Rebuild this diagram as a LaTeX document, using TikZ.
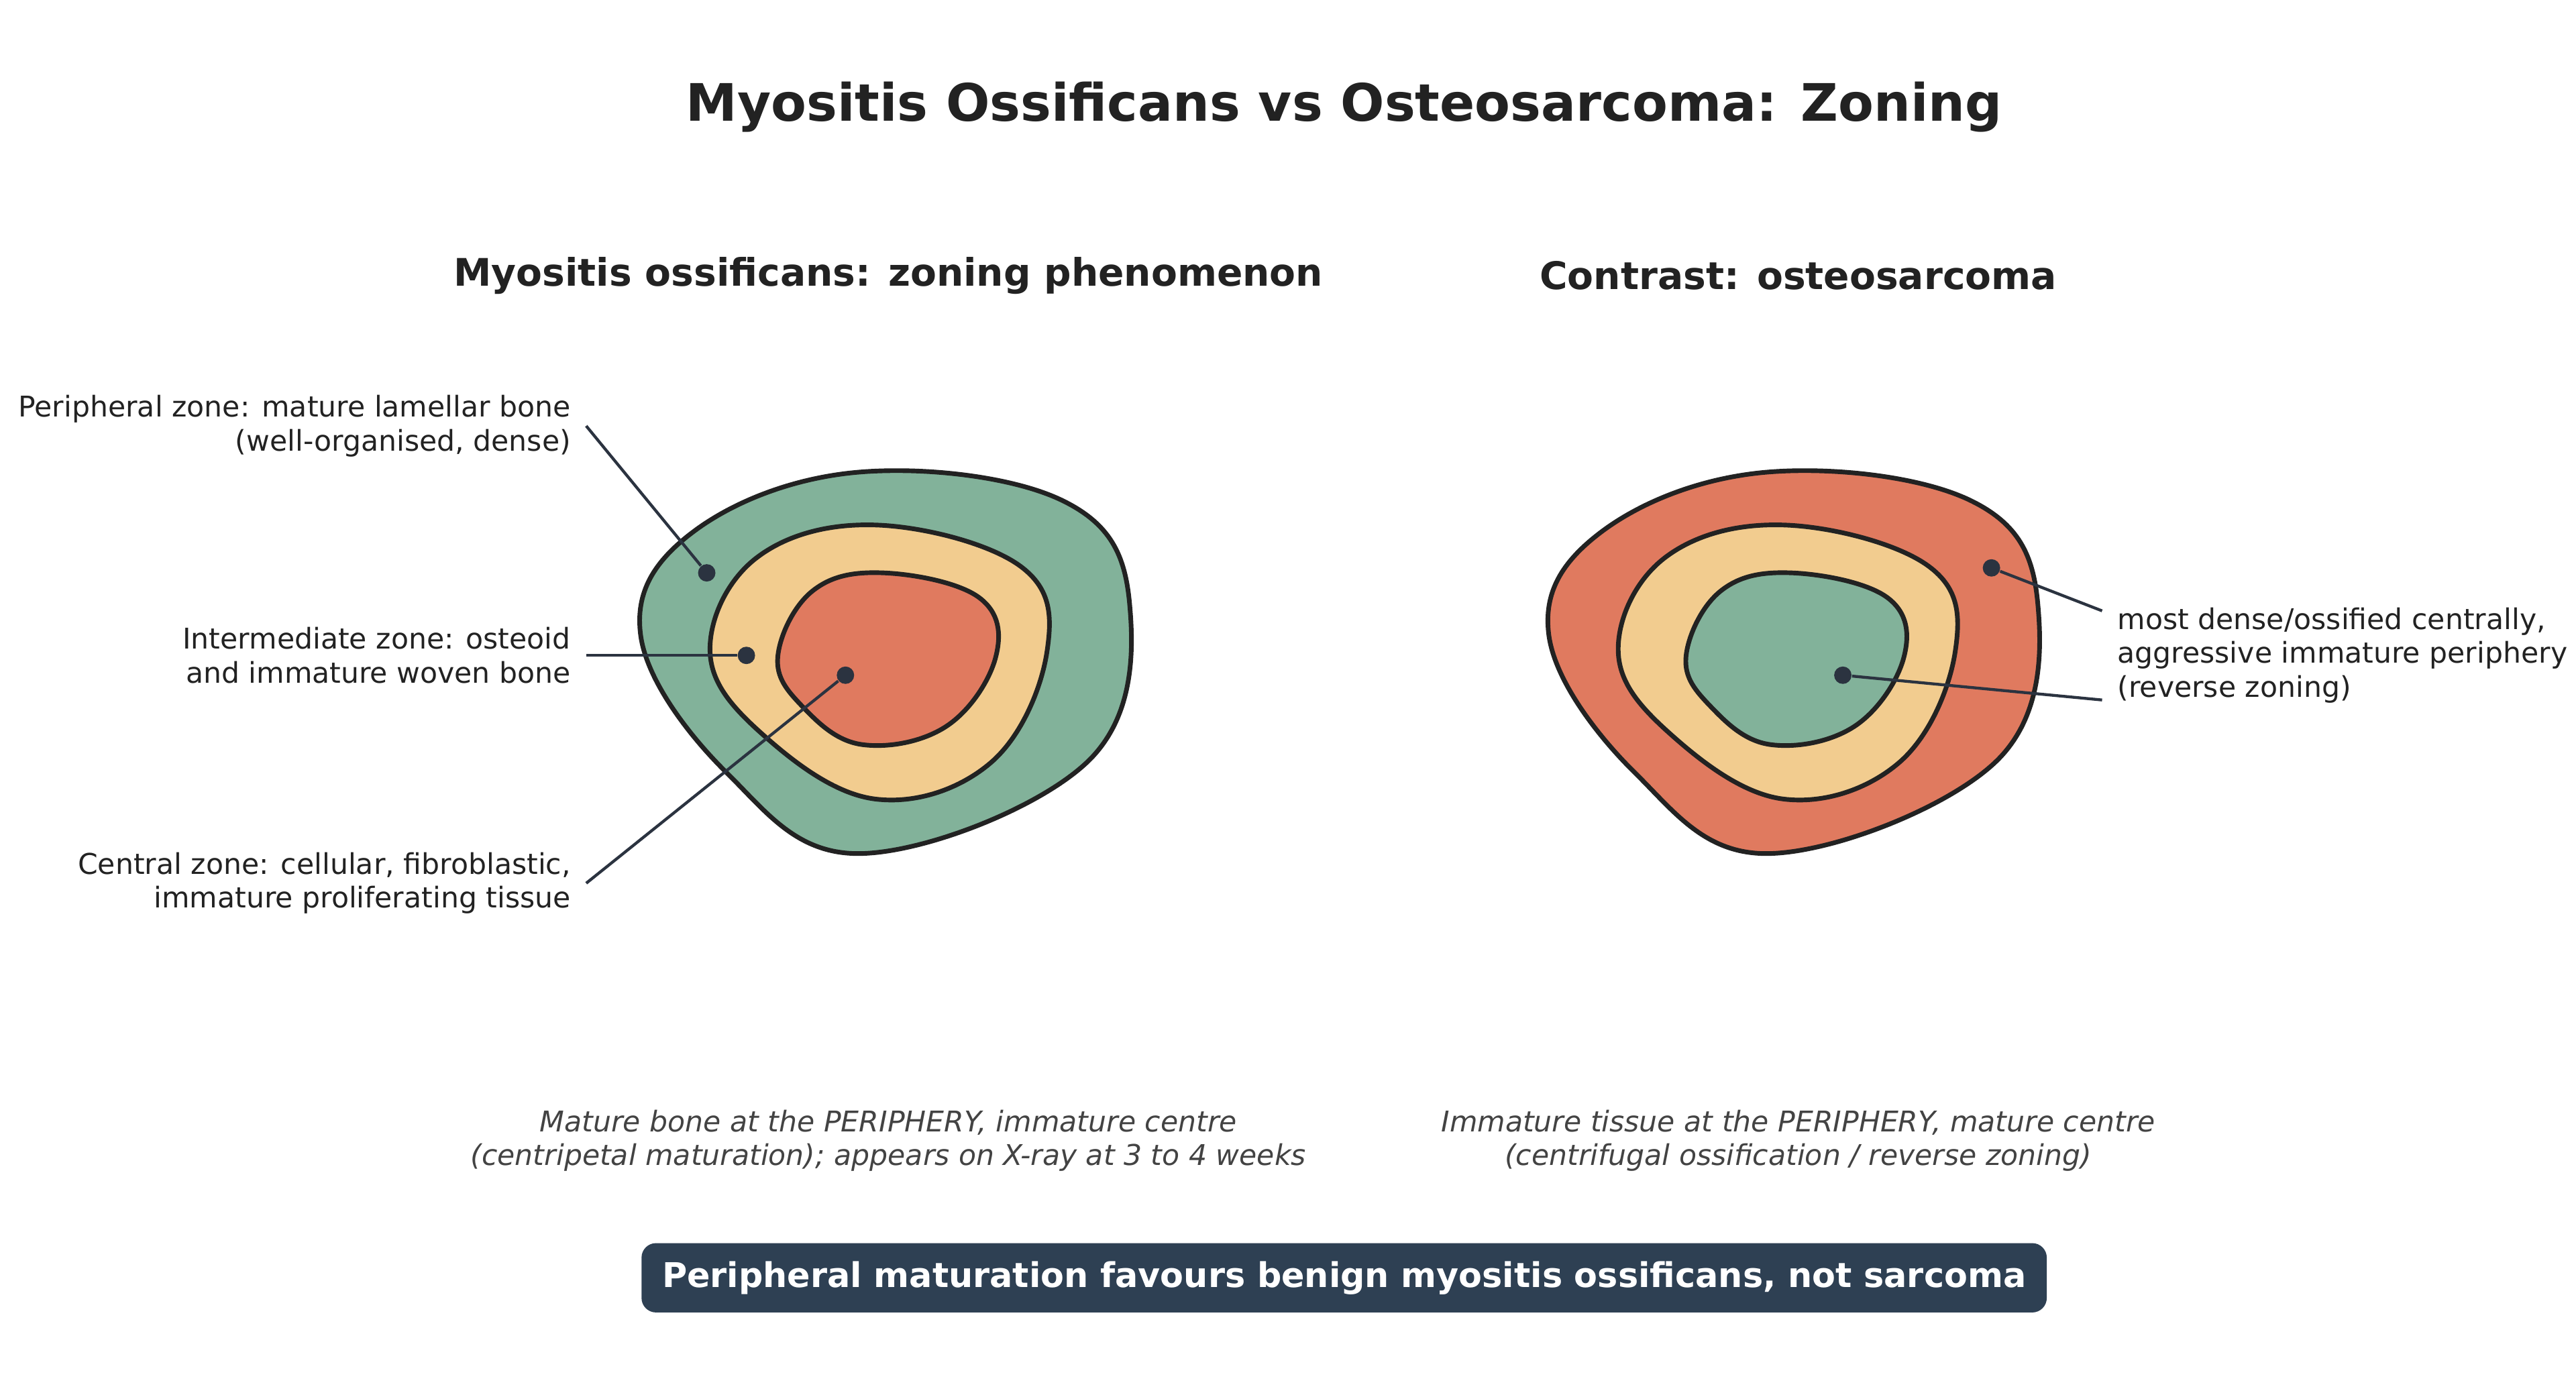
\documentclass[tikz,border=0pt]{standalone}
\usepackage{fontspec}
\setmainfont{DejaVu Sans}
\definecolor{cg}{HTML}{82B29A}
\definecolor{cy}{HTML}{F2CC8F}
\definecolor{cr}{HTML}{E07A5F}
\definecolor{dk}{HTML}{222222}
\definecolor{ln}{HTML}{2B3340}
\definecolor{bx}{HTML}{2E4053}
\begin{document}
\begin{tikzpicture}[x=0.02cm,y=-0.02cm,
  zone/.style={draw=dk,line width=1.6pt},
  dot/.style={circle,fill=ln,inner sep=0pt,minimum size=6pt},
  lead/.style={draw=ln,line width=1pt},
  lab/.style={font=\fontsize{9.85}{11.7}\selectfont,text=dk,inner sep=0pt},
  capt/.style={font=\fontsize{9.85}{11.7}\itshape\selectfont,text=dk!85,align=center,inner sep=0pt},
  sub/.style={font=\fontsize{13.1}{15}\bfseries\selectfont,text=dk}]
\useasboundingbox (0,0) rectangle (1560,845);
\node[font=\fontsize{17.8}{21}\bfseries\selectfont,text=dk] (title) at (814,65) {Myositis Ossificans vs Osteosarcoma: Zoning};
\node[sub] (s1) at (538,167) {Myositis ossificans: zoning phenomenon};
\node[sub] (s2) at (1089,167) {Contrast: osteosarcoma};
\foreach \dx/\a/\b/\c in {0/cg/cy/cr,550/cr/cy/cg}{
\begin{scope}[xshift=\dx*0.02cm]
\draw[zone,fill=\a] plot[smooth cycle,tension=0.65] coordinates{(388,385)(420,322)(520,286)(643,303)(684,365)(658,462)(522,517)(440,468)};
\draw[zone,fill=\b] plot[smooth cycle,tension=0.65] coordinates{(430,395)(458,338)(530,318)(618,343)(634,395)(600,462)(530,484)(462,445)};
\draw[zone,fill=\c] plot[smooth cycle,tension=0.65] coordinates{(471,398)(492,358)(535,347)(593,362)(603,398)(573,440)(522,451)(486,428)};
\end{scope}}
\node[dot] (d1) at (428,347) {};
\node[dot] (d2) at (452,397) {};
\node[dot] (d3) at (512,409) {};
\node[dot] (d4) at (1206,344) {};
\node[dot] (d5) at (1116,409) {};
\coordinate (e1) at (355,258); \coordinate (e2) at (355,397); \coordinate (e3) at (355,535);
\coordinate (e4) at (1273,370); \coordinate (e5) at (1273,424);
\draw[lead] (e1)--(d1); \draw[lead] (e2)--(d2); \draw[lead] (e3)--(d3);
\draw[lead] (e4)--(d4); \draw[lead] (e5)--(d5);
\node[lab,align=right,anchor=east] (l1) at (346,258) {Peripheral zone: mature lamellar bone\\(well-organised, dense)};
\node[lab,align=right,anchor=east] (l2) at (346,397) {Intermediate zone: osteoid\\and immature woven bone};
\node[lab,align=right,anchor=east] (l3) at (346,535) {Central zone: cellular, fibroblastic,\\immature proliferating tissue};
\node[lab,align=left,anchor=west] (l4) at (1282,397) {most dense/ossified centrally,\\aggressive immature periphery\\(reverse zoning)};
\node[capt] (c1) at (538,691) {Mature bone at the PERIPHERY, immature centre\\(centripetal maturation); appears on X-ray at 3 to 4 weeks};
\node[capt] (c2) at (1089,691) {Immature tissue at the PERIPHERY, mature centre\\(centrifugal ossification / reverse zoning)};
\node[fill=bx,rounded corners=5pt,minimum width=851*0.02cm,minimum height=42*0.02cm,text=white,font=\fontsize{11.75}{14}\bfseries\selectfont] (box) at (814,774) {Peripheral maturation favours benign myositis ossificans, not sarcoma};
\end{tikzpicture}
\end{document}
